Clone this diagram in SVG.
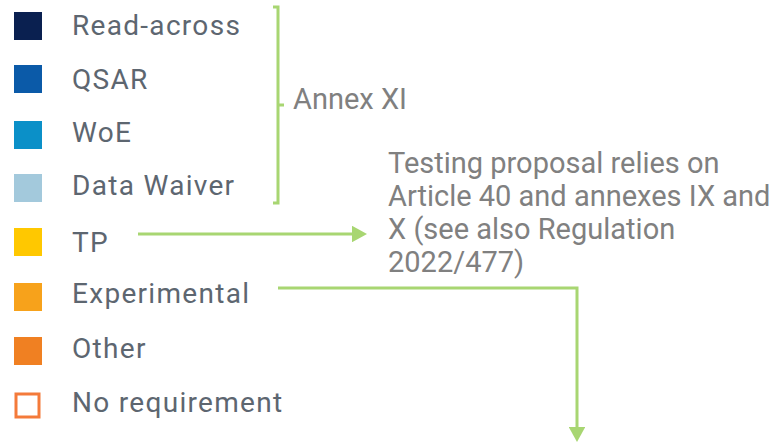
<svg xmlns="http://www.w3.org/2000/svg" width="781" height="442" viewBox="0 0 781 442">
<style>
.lg{font-family:Roboto,"Liberation Sans",sans-serif;font-size:28px;letter-spacing:1.3px;fill:#5d6670}
.nt{font-family:Roboto,"Liberation Sans",sans-serif;font-size:29px;fill:#808080}
.cn{fill:none;stroke:#a8d672;stroke-width:3}
</style>
<defs>
<marker id="ah" markerWidth="5" markerHeight="5.5" refX="0" refY="2.75" orient="auto" markerUnits="strokeWidth">
<path d="M0,0 L5,2.75 L0,5.5 Z" fill="#a8d672"/>
</marker>
</defs>
<rect width="781" height="442" fill="#ffffff"/>
<g id="read-across"><rect x="14" y="12" width="28" height="28" fill="#0a2050"/><text class="lg" x="72" y="35">Read-across</text></g>
<g id="qsar"><rect x="14" y="65" width="28" height="28" fill="#0b5aa8"/><text class="lg" x="72" y="89">QSAR</text></g>
<g id="woe"><rect x="14" y="121" width="28" height="28" fill="#0b90c8"/><text class="lg" x="72" y="142">WoE</text></g>
<g id="data-waiver"><rect x="14" y="174" width="28" height="28" fill="#a3c9dc"/><text class="lg" x="72" y="195">Data Waiver</text></g>
<g id="tp"><rect x="14" y="228" width="28" height="28" fill="#ffc800"/><text class="lg" x="72" y="252">TP</text></g>
<g id="experimental"><rect x="14" y="283" width="28" height="28" fill="#f7a21b"/><text class="lg" x="72" y="303">Experimental</text></g>
<g id="other"><rect x="14" y="337" width="28" height="28" fill="#f08022"/><text class="lg" x="72" y="358">Other</text></g>
<g id="no-requirement"><rect x="16" y="394" width="23" height="23" fill="#ffffff" stroke="#f47a3a" stroke-width="3"/><text class="lg" x="72" y="412">No requirement</text></g>
<g id="annex-xi"><text class="nt" x="293" y="109">Annex XI</text></g>
<g id="testing-proposal"><text class="nt" x="388"><tspan x="388" y="173">Testing proposal relies on</tspan><tspan x="388" y="206">Article 40 and annexes IX and</tspan><tspan x="388" y="239">X (see also Regulation</tspan><tspan x="388" y="272">2022/477)</tspan></text></g>
<g id="connectors">
<path class="cn" d="M273,7 H278 V203 H273 M278,105 H284" stroke-width="2"/>
<path class="cn" d="M138,234 H352" marker-end="url(#ah)"/>
<path class="cn" d="M278,288 H577 V427" marker-end="url(#ah)"/>
</g>
</svg>
